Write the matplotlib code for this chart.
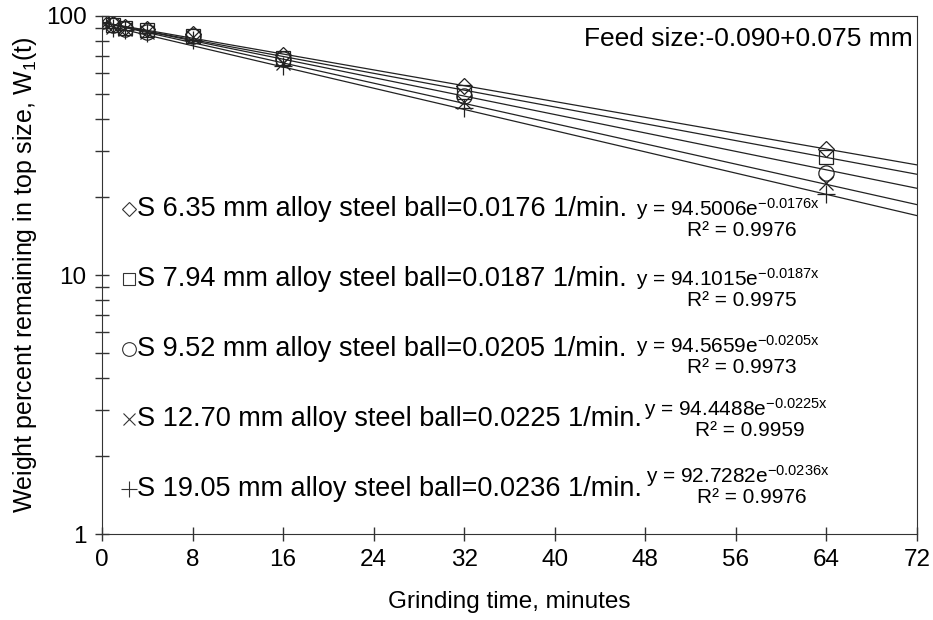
import matplotlib.pyplot as plt
import numpy as np

plt.rcParams['font.family'] = ['Liberation Sans', 'DejaVu Sans']
plt.rcParams['mathtext.fontset'] = 'custom'
plt.rcParams['mathtext.rm'] = 'Liberation Sans'
plt.rcParams['mathtext.it'] = 'Liberation Sans'

# grinding times, minutes
t = [0, 1, 2, 4, 8, 16, 32, 64]

# weight percent remaining in top size
w_635 = [97, 93, 91, 89, 85, 71, 53.5, 30.6]
w_794 = [96, 92, 90, 88, 84, 69, 51, 28.6]
w_952 = [96, 92, 89, 87, 84, 68, 49, 24.8]
w_1270 = [96, 91, 89, 87, 83, 66, 46.5, 22.6]
w_1905 = [95, 90, 88, 86, 81, 64, 44, 20.6]

# exponential fit parameters y = a*exp(b*x)
fit_a = [94.5006, 94.1015, 94.5659, 94.4488, 92.7282]
fit_b = ['-0.0176', '-0.0187', '-0.0205', '-0.0225', '-0.0236']
fit_r2 = ['0.9976', '0.9975', '0.9973', '0.9959', '0.9976']
labels = ['S 6.35 mm alloy steel ball=0.0176 1/min.',
          'S 7.94 mm alloy steel ball=0.0187 1/min.',
          'S 9.52 mm alloy steel ball=0.0205 1/min.',
          'S 12.70 mm alloy steel ball=0.0225 1/min.',
          'S 19.05 mm alloy steel ball=0.0236 1/min.']

series = [w_635, w_794, w_952, w_1270, w_1905]
markers = ['D', 's', 'o', 'x', '+']
msizes = [8, 10, 11, 10, 13]

fig = plt.figure(figsize=(9.33, 6.20), dpi=100)
ax = fig.add_axes([0.1093, 0.1387, 0.8736, 0.8355])

xx = np.linspace(0, 72, 200)
for a, b in zip(fit_a, fit_b):
    ax.plot(xx, a * np.exp(float(b) * xx), color='#222222', lw=0.9)

for w, m, s in zip(series, markers, msizes):
    ax.plot(t, w, linestyle='none', marker=m, markersize=s,
            markerfacecolor='none', markeredgecolor='#222222', markeredgewidth=0.9)

ax.set_yscale('log')
ax.set_ylim(1, 100)
ax.set_xlim(0, 72)
ax.set_xticks(np.arange(0, 73, 8))
ax.set_yticks([1, 10, 100])
ax.set_yticklabels(['1', '10', '100'])
ax.tick_params(axis='both', which='both', direction='inout', labelsize=17.5,
               color='#333333', width=1)
ax.tick_params(axis='both', which='major', length=10, pad=6)
ax.tick_params(axis='y', which='minor', length=10)
ax.yaxis.set_minor_formatter(plt.NullFormatter())
for sp in ax.spines.values():
    sp.set_color('#333333')

ax.set_xlabel('Grinding time, minutes', fontsize=17.5, labelpad=14)
ax.set_ylabel(r'Weight percent remaining in top size, W$_1$(t)', fontsize=18, labelpad=5)

ax.text(0.995, 0.955, 'Feed size:-0.090+0.075 mm', transform=ax.transAxes,
        fontsize=19, ha='right', va='center')

# in-plot legend with fit equations
leg_y = [0.628, 0.493, 0.358, 0.222, 0.087]
eq_dx = [0.0, 0.0, 0.0, 0.01, 0.012]
eq_dy = [0.0, 0.0, 0.005, 0.02, 0.025]
for i in range(5):
    y0 = leg_y[i]
    ax.plot([0.033], [y0], transform=ax.transAxes, linestyle='none',
            marker=markers[i], markersize=msizes[i] * 0.9, markerfacecolor='none',
            markeredgecolor='#333333', markeredgewidth=0.8, clip_on=False)
    ax.text(0.043, y0, labels[i], transform=ax.transAxes, fontsize=19.5,
            ha='left', va='center')
    ex = 0.655 + eq_dx[i]
    ax.text(ex, y0 + eq_dy[i],
            'y = %.4fe$\\mathregular{^{%sx}}$' % (fit_a[i], fit_b[i]),
            transform=ax.transAxes, fontsize=15, ha='left', va='center')
    ax.text(ex + 0.13, y0 + eq_dy[i] - 0.042, 'R² = ' + fit_r2[i],
            transform=ax.transAxes, fontsize=15, ha='center', va='center')

fig.savefig('out.png', dpi=100)
